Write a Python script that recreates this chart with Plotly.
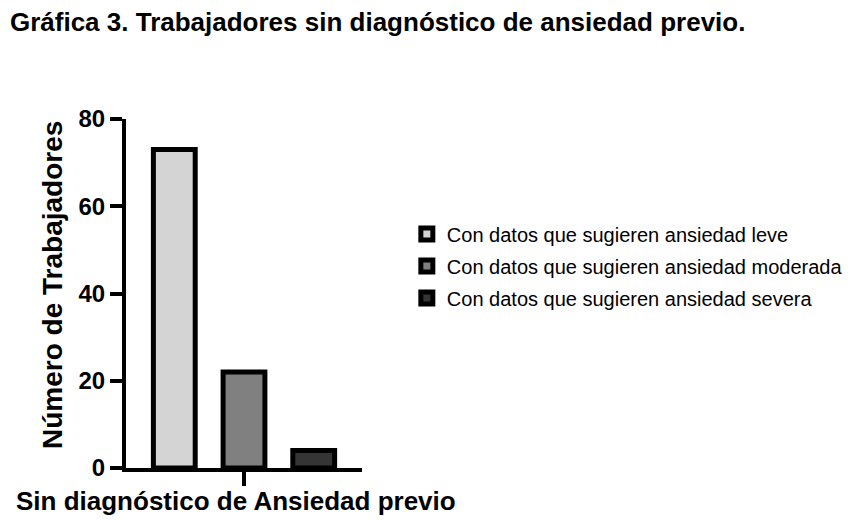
import plotly.graph_objects as go

category = ["Sin diagnóstico de Ansiedad previo"]
series_names = [
    "Con datos que sugieren ansiedad leve",
    "Con datos que sugieren ansiedad moderada",
    "Con datos que sugieren ansiedad severa",
]
series_values = [73, 22, 4]
series_colors = ["#d4d4d4", "#808080", "#353535"]
y_ticks = [0, 20, 40, 60, 80]

FONT = "Arial, Liberation Sans, sans-serif"

fig = go.Figure()
for i, (name, val, col) in enumerate(zip(series_names, series_values, series_colors)):
    fig.add_trace(go.Bar(
        x=category, y=[val], name=name, legendgroup=f"g{i}",
        marker=dict(color=col, line=dict(color="black", width=5)),
    ))

fig.update_layout(
    width=853, height=528,
    paper_bgcolor="white", plot_bgcolor="white",
    barmode="group", bargap=0.114, bargroupgap=0.4,
    margin=dict(l=118, r=499, t=111, b=68, autoexpand=False),
    font=dict(family=FONT, color="black"),
    title=dict(
        text="<b>Gráfica 3. Trabajadores sin diagnóstico de ansiedad previo.</b>",
        x=0.0023, xanchor="left", y=0.9735, yanchor="middle",
        font=dict(size=26, family=FONT, color="black"),
    ),
    legend=dict(
        x=1.19, xanchor="left", y=0.579, yanchor="middle",
        font=dict(size=20, family=FONT, color="black"),
        itemwidth=30, tracegroupgap=3,
        bgcolor="rgba(0,0,0,0)",
    ),
    showlegend=True,
)

fig.update_xaxes(
    showline=True, linecolor="black", linewidth=4,
    ticks="outside", ticklen=14, tickwidth=4, tickcolor="black",
    showticklabels=False,
    showgrid=False, zeroline=False, range=[-0.5, 0.5],
)
fig.update_yaxes(
    range=[0, 80], tickvals=y_ticks,
    showline=True, linecolor="black", linewidth=4,
    ticks="outside", ticklen=12, tickwidth=4, tickcolor="black",
    tickfont=dict(size=24, family=FONT, color="black", weight="bold"),
    showgrid=False, zeroline=False,
)

# category label under the axis
fig.add_annotation(
    text=f"<b>{category[0]}</b>", xref="paper", yref="paper",
    x=(228 - 118) / 236, y=(460 - 493) / 349,
    xanchor="center", yanchor="middle", showarrow=False,
    font=dict(size=26, family=FONT, color="black"),
)
# y-axis title
fig.add_annotation(
    text="<b>Número de Trabajadores</b>", xref="paper", yref="paper",
    x=(44 - 118) / 236, y=(460 - 277) / 349, textangle=-90,
    xanchor="center", yanchor="middle", showarrow=False,
    font=dict(size=28, family=FONT, color="black"),
)

fig.write_html("out.html")
